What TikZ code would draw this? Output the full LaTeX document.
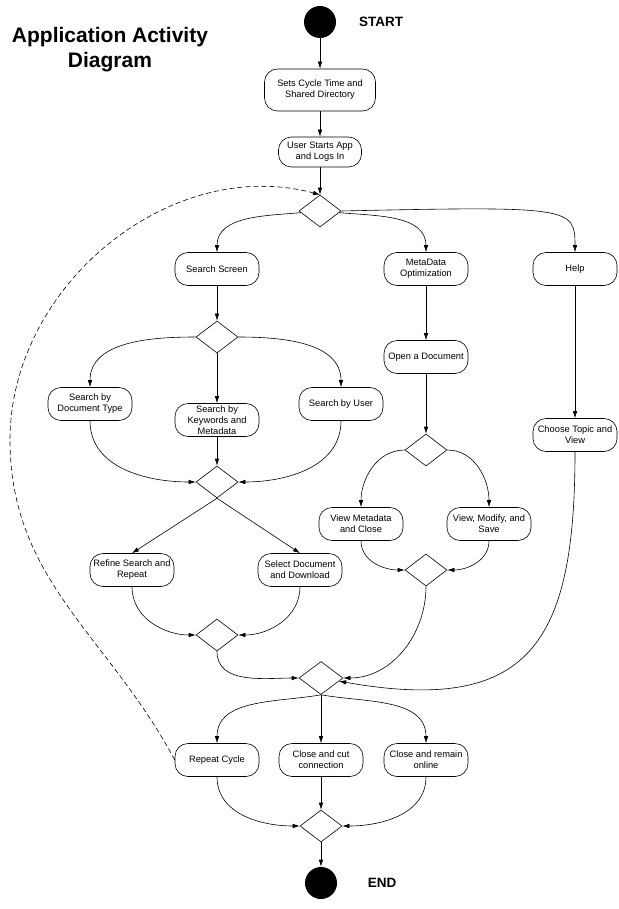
\documentclass[tikz,border=0pt]{standalone}
\usepackage{fontspec}
\setmainfont{Liberation Sans}
\usetikzlibrary{shapes.geometric,arrows.meta}

\tikzset{
  act/.style={draw,rectangle,rounded corners=13pt,minimum width=84pt,
    minimum height=33pt,align=center,inner xsep=1pt,inner ysep=1pt,
    font=\fontsize{9.3}{11}\selectfont},
  choice/.style={draw,diamond,minimum width=42pt,minimum height=32pt,inner sep=0pt},
  terminal/.style={circle,fill=black,minimum size=32pt,inner sep=0pt},
}

\begin{document}
\begin{tikzpicture}[x=1pt,y=1pt,line width=0.6pt,>={Latex[length=7pt,width=4.5pt]}]

      \fill[white] (0,0) rectangle (618,-909);

      \node[align=center,font=\fontsize{21}{25}\selectfont\bfseries] (title) at (110,-50)
        {Application Activity\\Diagram};

      % start and end
      \node[terminal] (1)  at (320,-22) {};
      \node[terminal] (27) at (321,-883) {};
      \node[font=\fontsize{13.5}{16}\selectfont\bfseries] (st) at (381,-22) {START};
      \node[font=\fontsize{13.5}{16}\selectfont\bfseries] (en) at (382,-883) {END};

      \begin{scope}[every node/.style={act}]
        \node[minimum width=111pt,minimum height=42pt] (2) at (320,-90) {Sets Cycle Time and\\Shared Directory};
        \node[minimum width=83pt,minimum height=30pt] (3) at (320,-152) {User Starts App\\and Logs In};
        \node (5)  at (217,-269) {Search Screen};
        \node (6)  at (426,-269) {MetaData\\Optimization};
        \node (7)  at (575,-269) {Help};
        \node (9)  at (426,-357) {Open a Document};
        \node (10) at (90,-404)  {Search by\\Document Type};
        \node (11) at (217,-420) {Search by\\Keywords and\\Metadata};
        \node (12) at (341,-404) {Search by User};
        \node (13) at (575,-435) {Choose Topic and\\View};
        \node (16) at (361,-524) {View Metadata\\and Close};
        \node (17) at (489,-524) {View, Modify, and\\Save};
        \node (18) at (132,-570) {Refine Search and\\Repeat};
        \node (19) at (300,-570) {Select Document\\and Download};
        \node (23) at (217,-760) {Repeat Cycle};
        \node (24) at (321,-760) {Close and cut\\connection};
        \node (25) at (426,-760) {Close and remain\\online};
      \end{scope}

      \begin{scope}[every node/.style={choice}]
        \node (4)  at (320,-211) {};
        \node (8)  at (217,-337) {};
        \node (14) at (426,-450) {};
        \node (15) at (217,-482) {};
        \node (20) at (426,-570) {};
        \node (21) at (217,-635) {};
        \node[minimum width=44pt,minimum height=33pt] (22) at (321,-678) {};
        \node (26) at (321,-826) {};
      \end{scope}

      \begin{scope}[every edge/.style={draw,->}]
        \path (1)  edge (2);
        \path (2)  edge (3);
        \path (3)  edge (4);
        \path (4)  edge[out=185,in=90] (5);
        \path (4)  edge[out=-5,in=90] (6);
        \path (5)  edge (8);
        \path (8)  edge[out=180,in=90] (10);
        \path (8)  edge (11);
        \path (8)  edge[out=0,in=90] (12);
        \path (10) edge[out=-90,in=180] (15);
        \path (11) edge (15);
        \path (12) edge[out=-90,in=0] (15);
        \path (15.south) edge (18.north);
        \path (15.south) edge (19.north);
        \path (18) edge[out=-90,in=180] (21);
        \path (19) edge[out=-90,in=0] (21);
        \path (21) edge[out=-90,in=180] (22);
        \path (6)  edge (9);
        \path (9)  edge (14);
        \path (14) edge[out=180,in=90] (16);
        \path (14) edge[out=0,in=90] (17);
        \path (16) edge[out=-90,in=180] (20);
        \path (17) edge[out=-90,in=0] (20);
        \path (20) edge[out=-90,in=0] (22);
        \path (7)  edge (13);
        \path (13) edge[out=-90,in=-10,looseness=1.5] (22);
        \path (22.south) edge[out=190,in=90] (23);
        \path (22) edge (24);
        \path (22.south) edge[out=-10,in=90] (25);
        \path (23) edge[out=-90,in=180] (26);
        \path (24) edge (26);
        \path (25) edge[out=-90,in=0] (26);
        \path (26) edge (27);
      \end{scope}

      % help branch and the loop back
      \draw[->] (4.east) .. controls +(230,5) and +(0,45) .. (7.north);
      \draw[->,dash pattern=on 5pt off 3pt] (23.west) to[out=118,in=-90] (10,-440)
        to[out=90,in=165] (4.north);

    \end{tikzpicture}
\end{document}
